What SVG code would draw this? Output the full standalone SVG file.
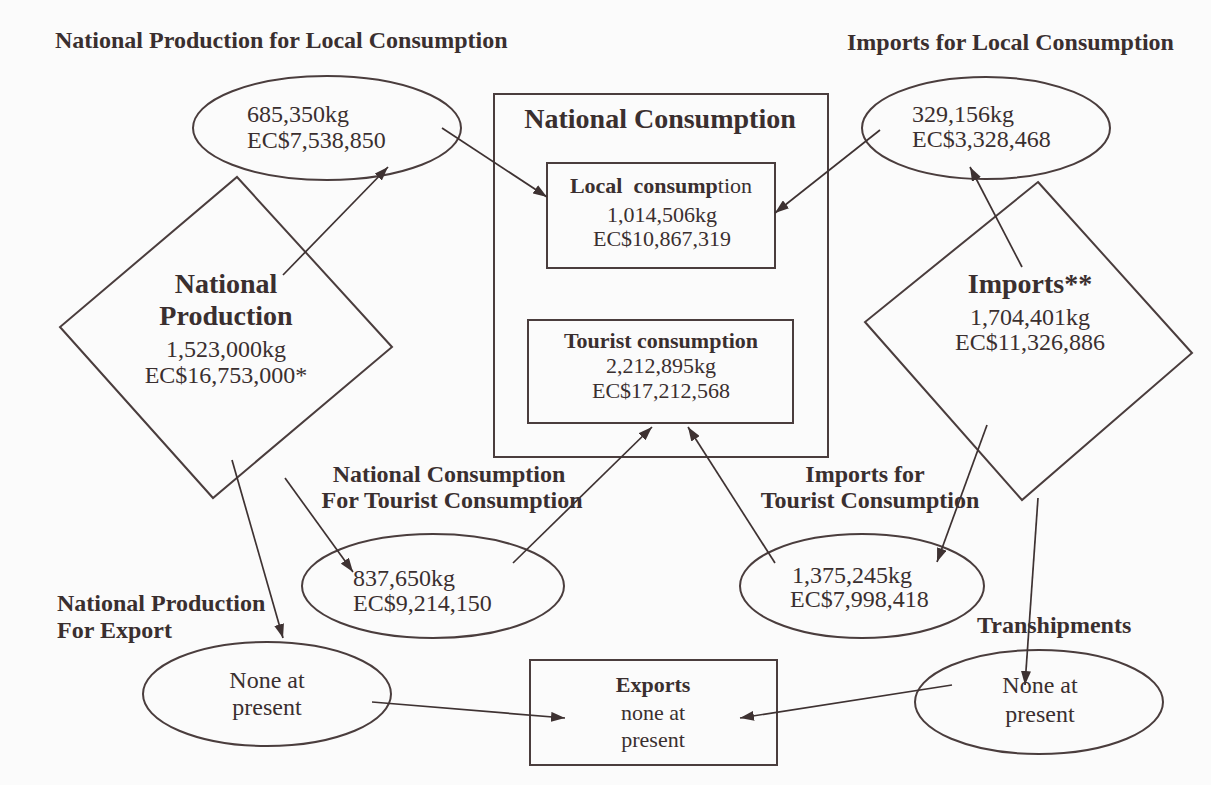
<svg xmlns="http://www.w3.org/2000/svg" width="1211" height="785" viewBox="0 0 1211 785">
  <defs>
    <marker id="arrow" viewBox="0 0 14 10" refX="14" refY="5" markerWidth="14" markerHeight="10" markerUnits="userSpaceOnUse" orient="auto">
      <path d="M0,0 L14,5 L0,10 z" fill="#3e3232"/>
    </marker>
    <style>
      .shape { fill: none; stroke: #4a3d3d; stroke-width: 2; }
      .edge { fill: none; stroke: #3e3232; stroke-width: 1.7; marker-end: url(#arrow); }
      text { font-family: "Liberation Serif", "Times New Roman", serif; fill: #3a2f2f; }
      .head { font-size: 24px; font-weight: bold; }
      .big { font-size: 28px; font-weight: bold; }
      .val { font-size: 24px; }
      .small { font-size: 22px; }
      .smallb { font-size: 22px; font-weight: bold; }
      .mid { text-anchor: middle; }
    </style>
  </defs>
  <rect width="1211" height="785" fill="#fbfbfb"/>

  <!-- section headings -->
  <g id="labels">
    <text class="head" x="55" y="48">National Production for Local Consumption</text>
    <text class="head" x="847" y="50">Imports for Local Consumption</text>
    <text class="head mid" x="449" y="482">National Consumption</text>
    <text class="head mid" x="452" y="508">For Tourist Consumption</text>
    <text class="head mid" x="865" y="482">Imports for</text>
    <text class="head mid" x="870" y="508">Tourist Consumption</text>
    <text class="head" x="57" y="611">National Production</text>
    <text class="head" x="57" y="638">For Export</text>
    <text class="head" x="977" y="633">Transhipments</text>
  </g>

  <!-- national production -->
  <g id="national-production">
    <polygon class="shape" points="237,177 392,347 213,498 60,327"/>
    <text class="big mid" x="226" y="293">National</text>
    <text class="big mid" x="226" y="325">Production</text>
    <text class="val mid" x="226" y="357">1,523,000kg</text>
    <text class="val mid" x="226" y="383">EC$16,753,000*</text>
  </g>

  <!-- imports -->
  <g id="imports">
    <polygon class="shape" points="1038,182 1192,353 1022,500 865,322"/>
    <text class="big mid" x="1030" y="293">Imports**</text>
    <text class="val mid" x="1030" y="325">1,704,401kg</text>
    <text class="val mid" x="1030" y="350">EC$11,326,886</text>
  </g>

  <!-- national production for local consumption -->
  <g id="np-local">
    <ellipse class="shape" cx="327" cy="128" rx="134" ry="52"/>
    <text class="val" x="247" y="122">685,350kg</text>
    <text class="val" x="247" y="148">EC$7,538,850</text>
  </g>

  <!-- imports for local consumption -->
  <g id="imp-local">
    <ellipse class="shape" cx="986" cy="128" rx="124" ry="51"/>
    <text class="val" x="912" y="122">329,156kg</text>
    <text class="val" x="912" y="147">EC$3,328,468</text>
  </g>

  <!-- national consumption container -->
  <g id="national-consumption">
    <rect class="shape" x="494" y="94" width="334" height="363"/>
    <text class="big mid" x="660" y="128">National Consumption</text>
  </g>

  <g id="local-consumption">
    <rect class="shape" x="547" y="163" width="228" height="105"/>
    <text class="smallb mid" x="661" y="193">Local&#160; consump<tspan font-weight="normal">tion</tspan></text>
    <text class="small mid" x="662" y="222">1,014,506kg</text>
    <text class="small mid" x="662" y="246">EC$10,867,319</text>
  </g>

  <g id="tourist-consumption">
    <rect class="shape" x="528" y="320" width="265" height="103"/>
    <text class="smallb mid" x="661" y="348">Tourist consumption</text>
    <text class="small mid" x="661" y="373">2,212,895kg</text>
    <text class="small mid" x="661" y="398">EC$17,212,568</text>
  </g>

  <!-- national consumption for tourist consumption -->
  <g id="nc-tourist">
    <ellipse class="shape" cx="433" cy="586" rx="131" ry="52"/>
    <text class="val" x="353" y="586">837,650kg</text>
    <text class="val" x="353" y="611">EC$9,214,150</text>
  </g>

  <!-- imports for tourist consumption -->
  <g id="imp-tourist">
    <ellipse class="shape" cx="862" cy="586" rx="122" ry="52"/>
    <text class="val" x="792" y="583">1,375,245kg</text>
    <text class="val" x="790" y="607">EC$7,998,418</text>
  </g>

  <!-- national production for export -->
  <g id="np-export">
    <ellipse class="shape" cx="267" cy="694" rx="124" ry="52"/>
    <text class="val mid" x="267" y="688">None at</text>
    <text class="val mid" x="267" y="715">present</text>
  </g>

  <!-- transhipments -->
  <g id="transhipments">
    <ellipse class="shape" cx="1039" cy="702" rx="124" ry="52"/>
    <text class="val mid" x="1040" y="693">None at</text>
    <text class="val mid" x="1040" y="722">present</text>
  </g>

  <!-- exports -->
  <g id="exports">
    <rect class="shape" x="530" y="660" width="247" height="105"/>
    <text class="smallb mid" x="653" y="692">Exports</text>
    <text class="small mid" x="653" y="720">none at</text>
    <text class="small mid" x="653" y="747">present</text>
  </g>

  <!-- flows -->
  <g id="connectors">
    <line class="edge" x1="283" y1="275" x2="388" y2="167"/>
    <line class="edge" x1="442" y1="128" x2="547" y2="197"/>
    <line class="edge" x1="880" y1="130" x2="775" y2="213"/>
    <line class="edge" x1="1022" y1="267" x2="970" y2="167"/>
    <line class="edge" x1="232" y1="460" x2="283" y2="638"/>
    <line class="edge" x1="285" y1="478" x2="353" y2="572"/>
    <line class="edge" x1="513" y1="563" x2="652" y2="427"/>
    <line class="edge" x1="775" y1="563" x2="688" y2="427"/>
    <line class="edge" x1="987" y1="425" x2="937" y2="562"/>
    <line class="edge" x1="1038" y1="498" x2="1025" y2="685"/>
    <line class="edge" x1="372" y1="702" x2="565" y2="718"/>
    <line class="edge" x1="952" y1="685" x2="740" y2="718"/>
  </g>
</svg>
